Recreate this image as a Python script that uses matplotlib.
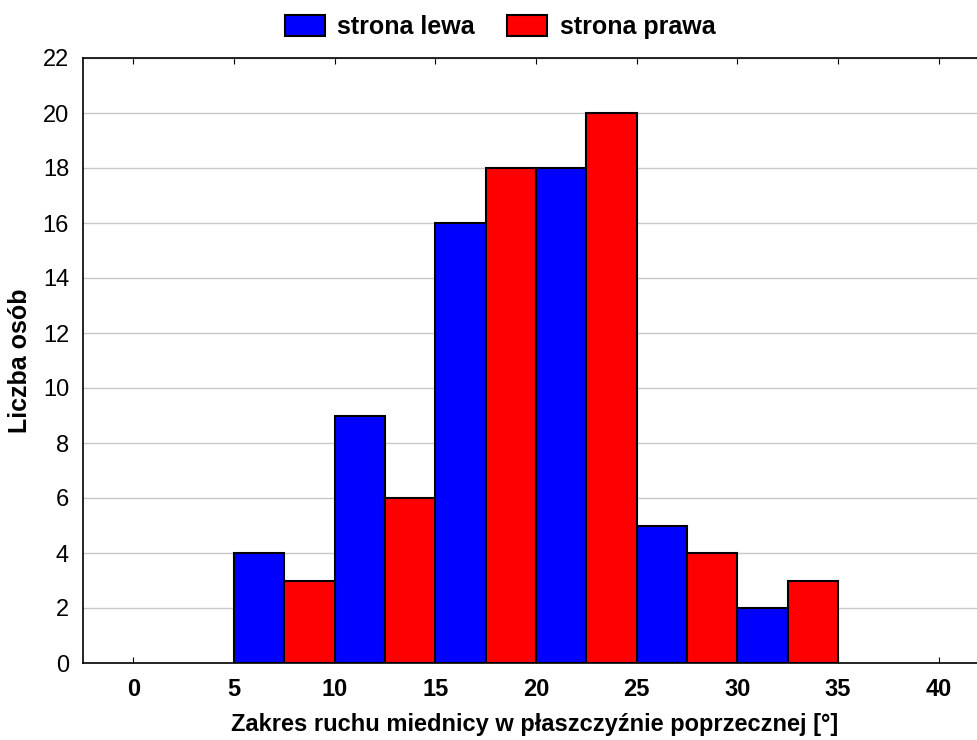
import matplotlib
matplotlib.use("Agg")
import matplotlib.pyplot as plt
from matplotlib.patches import Patch
import numpy as np

bin_starts = [5, 10, 15, 20, 25, 30]
lewa = [4, 9, 16, 18, 5, 2]
prawa = [3, 6, 18, 20, 4, 3]
xticks = [0, 5, 10, 15, 20, 25, 30, 35, 40]
yticks = list(range(0, 23, 2))

plt.rcParams['font.family'] = ['Liberation Sans', 'DejaVu Sans']

fig = plt.figure(figsize=(9.77, 7.40), dpi=100)
ax = fig.add_axes([83/977, (740-663)/740, (977-83)/977, (663-58)/740])

w = 2.5
bs = np.array(bin_starts, dtype=float)
ax.bar(bs, lewa, width=w, align='edge', color='#0000ff', edgecolor='black', linewidth=1.5, zorder=3)
ax.bar(bs + w, prawa, width=w, align='edge', color='#ff0000', edgecolor='black', linewidth=1.5, zorder=3)

ax.set_xlim(-2.5, 41.9)
ax.set_ylim(0, 22)
ax.set_xticks(xticks)
ax.set_yticks(yticks)
ax.set_xticklabels([str(t) for t in xticks], fontweight='bold', fontsize=17)
ax.set_yticklabels([str(t) for t in yticks], fontsize=17)
ax.yaxis.grid(True, color='#c8c8c8', linewidth=1, zorder=0)
ax.set_axisbelow(True)
ax.tick_params(axis='x', direction='in', top=True, length=4, pad=11)
ax.tick_params(axis='y', direction='in', length=0, pad=10)
ax.spines['right'].set_visible(False)
for s in ['left', 'top', 'bottom']:
    ax.spines[s].set_linewidth(1.2)

ax.set_xlabel('Zakres ruchu miednicy w płaszczyźnie poprzecznej [°]', fontweight='bold', fontsize=17, va='center')
ax.xaxis.set_label_coords((535 - 83) / 894, (663 - 725) / 605)
ax.set_ylabel('Liczba osób', fontweight='bold', fontsize=18, va='center')
ax.yaxis.set_label_coords((20 - 83) / 894, 0.5)

handles = [Patch(facecolor='#0000ff', edgecolor='black', linewidth=1.5, label='strona lewa'),
           Patch(facecolor='#ff0000', edgecolor='black', linewidth=1.5, label='strona prawa')]
fig.legend(handles=handles, loc='center', bbox_to_anchor=(500/977, 1 - 27/740), ncol=2, frameon=False,
           prop={'weight': 'bold', 'size': 18}, handlelength=1.6, handleheight=0.95, columnspacing=1.3,
           handletextpad=0.5, borderpad=0)

fig.savefig('out.png', dpi=100)
